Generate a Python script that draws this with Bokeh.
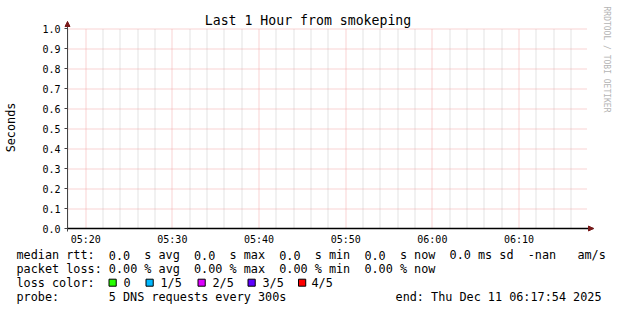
import re
import math
import numpy as np
import pandas as pd
from bokeh.plotting import figure
from bokeh.models import (Range1d, FixedTicker, DatetimeTickFormatter, PrintfTickFormatter,
                          Label, Arrow, NormalHead)
from bokeh.embed import file_html
from bokeh.resources import INLINE

# ---------------- data ----------------
title_text = "Last 1 Hour from smokeping"
y_label = "Seconds"
watermark = "RRDTOOL / TOBI OETIKER"
start_time = "2025-12-11 05:17:54"
end_time = "2025-12-11 06:17:54"
x_major_ticks = ["05:20", "05:30", "05:40", "05:50", "06:00", "06:10"]
x_minor_step_min = 2
y_ticks = [0.0, 0.1, 0.2, 0.3, 0.4, 0.5, 0.6, 0.7, 0.8, 0.9, 1.0]

median_rtt_labels = ["avg", "max", "min", "now"]
median_rtt_values = [0.0, 0.0, 0.0, 0.0]   # seconds
median_rtt_sd_ms = 0.0
median_rtt_ams = "-nan"
packet_loss_labels = ["avg", "max", "min", "now"]
packet_loss_values = [0.00, 0.00, 0.00, 0.00]  # percent
loss_labels = ["0", "1/5", "2/5", "3/5", "4/5"]
loss_colors = ["#26ff00", "#00b8ff", "#dd00ff", "#5e00ff", "#ff0000"]
probe_text = "5 DNS requests every 300s"
end_text = "end: Thu Dec 11 06:17:54 2025"

# ---------------- layout ----------------
W, H = 617, 310
PL, PB = 67, 228          # plot-area left edge / zero line (canvas px)
PX_PER_HOUR = 520.0
PX_PER_UNIT = 200.0
MONO = "DejaVu Sans Mono"
GRID_MAJOR = "#f3a6a6"
GRID_MINOR = "#c6c6c6"
ARROW_C = "#7a1a1a"

t0 = pd.Timestamp(start_time)
t1 = pd.Timestamp(end_time)
ms = lambda ts: ts.value / 1e6
ms_per_px = 3600e3 / PX_PER_HOUR
x0 = ms(t0)

# the frame covers the whole canvas; axes are pinned inside it
p = figure(width=W, height=H, x_axis_type="datetime", output_backend="svg",
           toolbar_location=None,
           x_range=Range1d(x0 - PL * ms_per_px, x0 + (W - PL) * ms_per_px),
           y_range=Range1d(-(H - PB) / PX_PER_UNIT, PB / PX_PER_UNIT),
           min_border=0, min_border_left=0, min_border_right=0, min_border_top=0,
           min_border_bottom=0, background_fill_color="white",
           border_fill_color="white", outline_line_color=None)
p.xgrid.visible = False
p.ygrid.visible = False


# snap grid lines to pixel centres so the dotted pattern stays crisp
def snap_x(v):
    px = PL + (v - x0) / ms_per_px
    return x0 + (math.floor(px) + 0.5 - PL) * ms_per_px


def snap_y(v):
    py = PB - v * PX_PER_UNIT
    return (PB - (math.floor(py) + 0.5)) / PX_PER_UNIT


day = t0.normalize()
major_ms = [ms(day + pd.Timedelta(hours=int(s[:2]), minutes=int(s[3:]))) for s in x_major_ticks]

minor_ms = []
t = t0.ceil(f"{x_minor_step_min}min")
while t <= t1:
    if t.minute % 10 != 0:
        minor_ms.append(ms(t))
    t += pd.Timedelta(minutes=x_minor_step_min)

ytop = max(y_ticks)
gx_minor = [snap_x(v) for v in minor_ms]
gx_major = [snap_x(v) for v in major_ms]
p.segment(x0=gx_minor, y0=[0] * len(gx_minor), x1=gx_minor, y1=[ytop] * len(gx_minor),
          line_color=GRID_MINOR, line_width=1, line_dash="1 1")
p.segment(x0=gx_major, y0=[0] * len(gx_major), x1=gx_major, y1=[ytop] * len(gx_major),
          line_color=GRID_MAJOR, line_width=1, line_dash="1 1")
hy = [snap_y(v) for v in y_ticks if v > 0]
p.segment(x0=[x0] * len(hy), y0=hy, x1=[ms(t1)] * len(hy), y1=hy,
          line_color=GRID_MAJOR, line_width=1, line_dash="1 1")

x_arrow_tip = ms(t1) + 6 * ms_per_px
y_arrow_tip = ytop + 7 / PX_PER_UNIT

# axes pinned at the plot origin
xa = p.xaxis[0]
xa.fixed_location = 0
xa.bounds = (x0, x_arrow_tip)
xa.ticker = FixedTicker(ticks=major_ms, minor_ticks=[])
fmt = "%H:%M"
xa.formatter = DatetimeTickFormatter(minutes=fmt, hourmin=fmt, hours=fmt, minsec=fmt,
                                     seconds=fmt, days=fmt)
xa.axis_line_color = "black"
xa.axis_line_width = 1.5
xa.major_tick_in = 0
xa.major_tick_out = 0
xa.major_label_standoff = 5
xa.major_label_text_font = MONO
xa.major_label_text_font_size = "10px"
xa.major_label_text_color = "black"

ya = p.yaxis[0]
ya.fixed_location = x0
ya.bounds = (-3 / PX_PER_UNIT, y_arrow_tip)
ya.ticker = FixedTicker(ticks=y_ticks, minor_ticks=[])
ya.formatter = PrintfTickFormatter(format="%.1f")
ya.axis_line_color = "#444444"
ya.major_tick_line_color = "#444444"
ya.major_tick_in = 0
ya.major_tick_out = 3
ya.major_label_standoff = 4
ya.major_label_text_font = MONO
ya.major_label_text_font_size = "10px"
ya.major_label_text_color = "black"

# axis arrows
p.add_layout(Arrow(end=NormalHead(size=5, fill_color=ARROW_C, line_color=ARROW_C),
                   x_start=x0, y_start=ytop, x_end=x0, y_end=y_arrow_tip,
                   line_alpha=0))
p.add_layout(Arrow(end=NormalHead(size=5, fill_color=ARROW_C, line_color=ARROW_C),
                   x_start=ms(t1), y_start=0, x_end=x_arrow_tip, y_end=0,
                   line_alpha=0))


def lab(text, cx, cy, size, align="left", color="black", angle=0.0, **kw):
    p.add_layout(Label(x=cx, y=H - cy, x_units="screen", y_units="screen",
                       text=text, text_font=MONO, text_font_size=f"{size}px",
                       text_align=align, text_baseline="middle", text_color=color,
                       angle=angle, **kw))


lab(title_text, 307.5, 19.5, 13.2, align="center")
lab(y_label, 10.5, 127, 11.8, align="center", angle=math.pi / 2)
lab(watermark, 606, 59, 8, align="center", color="#b4b4b4", angle=-math.pi / 2)

# legend text on a monospace column grid
LX, CW = 16, 7.1
rows_y = [254.5, 268.3, 282.2, 296]

line1 = "median rtt:  " + "".join(f"{v:.1f}  s {n}  " for v, n in zip(median_rtt_values, median_rtt_labels)) \
        + f"{median_rtt_sd_ms:.1f} ms sd  {median_rtt_ams}   am/s"
line2 = "packet loss: " + "  ".join(f"{v:.2f} % {n}" for v, n in zip(packet_loss_values, packet_loss_labels))
line4 = "probe:       " + probe_text


def grid_line(s, cy):
    for m in re.finditer(r"\S+(?: \S+)*", s):
        lab(m.group(0), LX + m.start() * CW, cy, 11.8)


grid_line(line1, rows_y[0])
grid_line(line2, rows_y[1])
grid_line("loss color:", rows_y[2])
grid_line(line4, rows_y[3])
lab(end_text, 601, rows_y[3], 11.8, align="right")

box_left = [108.5, 145.5, 197.5, 247.5, 298]
text_left = [123, 160, 212, 262, 311]
for c, l, bx, tx in zip(loss_colors, loss_labels, box_left, text_left):
    lab("\u00a0\u00a0", bx, rows_y[2], 6, background_fill_color=c,
        border_line_color="black", border_line_width=1)
    lab(l, tx, rows_y[2], 11.8)

open("out.html", "w").write(file_html(p, INLINE))
